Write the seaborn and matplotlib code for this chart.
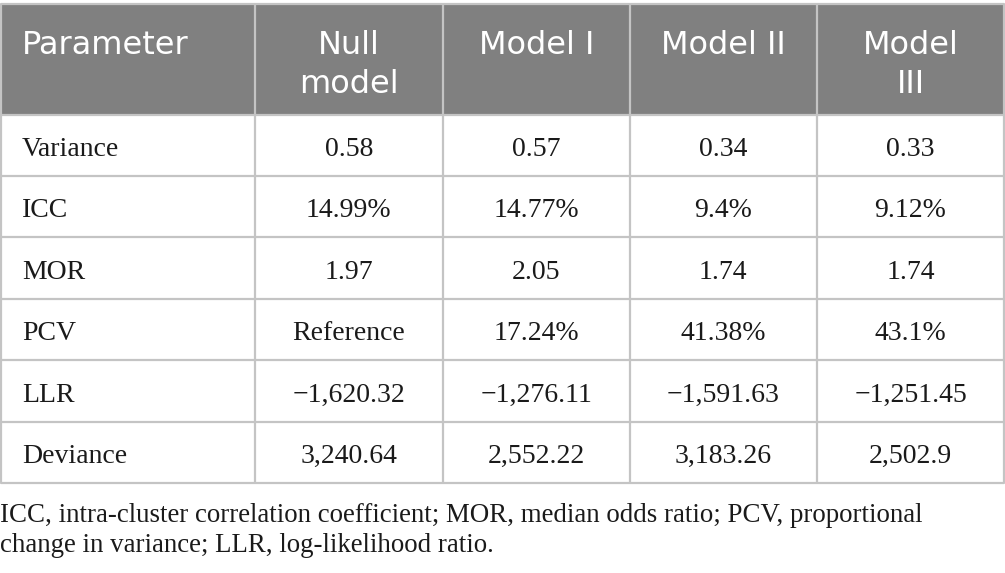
import matplotlib
matplotlib.use("Agg")
import matplotlib.pyplot as plt
import seaborn as sns
from matplotlib.patches import Rectangle

# ---- data ----
header = ["Parameter", "Null\nmodel", "Model I", "Model II", "Model\nIII"]
row_labels = ["Variance", "ICC", "MOR", "PCV", "LLR", "Deviance"]
null_model = ["0.58", "14.99%", "1.97", "Reference", "\u22121,620.32", "3,240.64"]
model_1 = ["0.57", "14.77%", "2.05", "17.24%", "\u22121,276.11", "2,552.22"]
model_2 = ["0.34", "9.4%", "1.74", "41.38%", "\u22121,591.63", "3,183.26"]
model_3 = ["0.33", "9.12%", "1.74", "43.1%", "\u22121,251.45", "2,502.9"]
footnote = ["ICC, intra-cluster correlation coefficient; MOR, median odds ratio; PCV, proportional",
            "change in variance; LLR, log-likelihood ratio."]

sns.set_theme(style="white")
plt.rcParams['font.family'] = ['Liberation Serif', 'DejaVu Sans']

W, H = 1005, 573
fig = plt.figure(figsize=(W / 100, H / 100), dpi=100)
ax = fig.add_axes([0, 0, 1, 1])
ax.set_xlim(0, W)
ax.set_ylim(H, 0)
ax.axis("off")

col_edges = [0.5, 254.5, 443, 629.5, 817, 1004]
header_top, header_bot = 4, 114.5
row_h = 61.4
n_rows = len(row_labels)
table_bot = header_bot + n_rows * row_h

grid_col = "#c4c4c4"
head_col = "#808080"

ax.add_patch(Rectangle((col_edges[0], header_top), col_edges[-1] - col_edges[0],
                       header_bot - header_top, facecolor=head_col, edgecolor="none"))

# grid lines
for x in col_edges:
    ax.plot([x, x], [header_top, table_bot], color=grid_col, lw=1.6, solid_capstyle="butt")
ax.plot([col_edges[0], col_edges[-1]], [header_top, header_top], color=grid_col, lw=1.6)
for i in range(n_rows + 1):
    y = header_bot + i * row_h
    ax.plot([col_edges[0], col_edges[-1]], [y, y], color=grid_col, lw=1.6)

# header text
hfont = dict(family=["DejaVu Sans"], fontsize=23, color="white")
for j, h in enumerate(header):
    if j == 0:
        ax.text(22, 53.5, h, ha="left", va="baseline", **hfont)
    else:
        cx = (col_edges[j] + col_edges[j + 1]) / 2
        lines = h.split("\n")
        for k, ln in enumerate(lines):
            ax.text(cx, 53.5 + k * 39.5, ln, ha="center", va="baseline", **hfont)

# body
cols = [null_model, model_1, model_2, model_3]
bfont = dict(fontsize=20, color="#1a1a1a")
for i, lab in enumerate(row_labels):
    by = header_bot + i * row_h + 41.5
    ax.text(22, by, lab, ha="left", va="baseline", **bfont)
    for j, col in enumerate(cols):
        cx = (col_edges[j + 1] + col_edges[j + 2]) / 2
        ax.text(cx, by, col[i], ha="center", va="baseline", **bfont)

# footnote
for k, ln in enumerate(footnote):
    ax.text(0, 522 + k * 29.5, ln, ha="left", va="baseline", fontsize=19.4, color="#1a1a1a")

fig.savefig("out.png", dpi=100)
